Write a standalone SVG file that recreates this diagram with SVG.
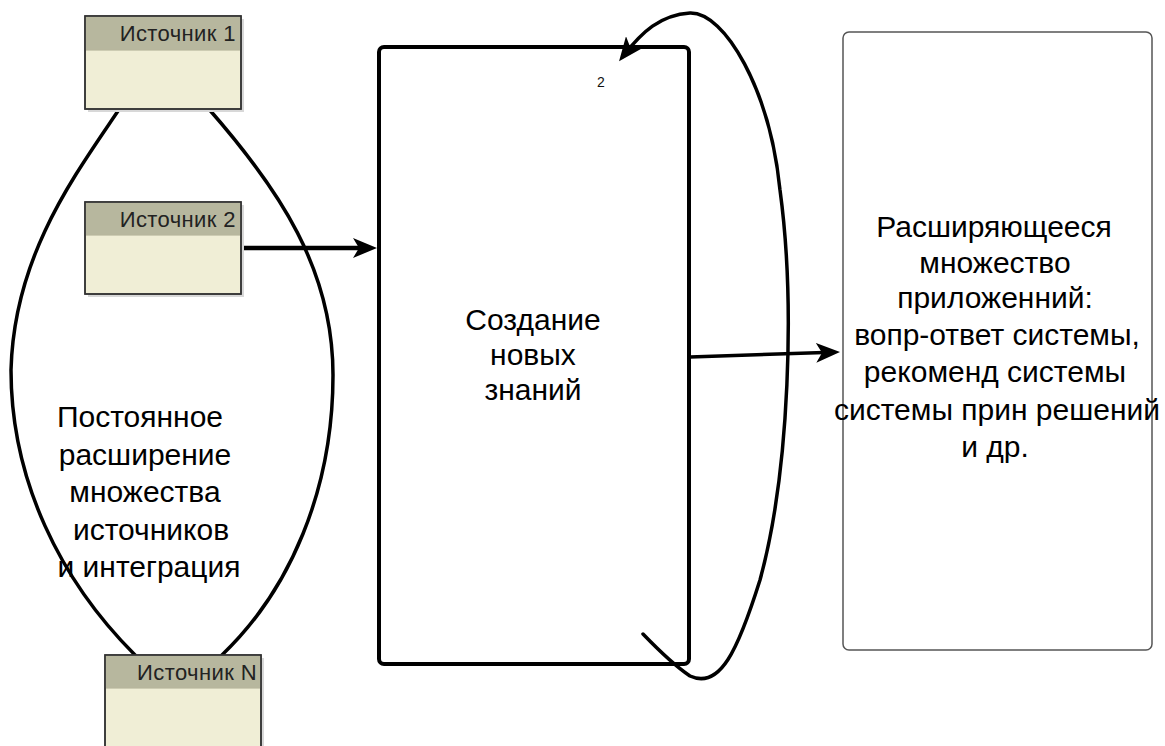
<svg xmlns="http://www.w3.org/2000/svg" width="1165" height="746" viewBox="0 0 1165 746">
  <style>
    .src-shadow { fill: #d8d8d8; }
    .src-body { fill: #f0eed6; stroke: #333; stroke-width: 1.5; }
    .src-head { fill: #b7b79e; }
    .src-rule { stroke: #a9a98f; stroke-width: 1; }
    .src-label { font-family: "Liberation Sans", Arial, sans-serif; font-size: 22px; letter-spacing: 0.4px; fill: #222; text-anchor: end; }
    .big { font-family: "Liberation Sans", Arial, sans-serif; font-size: 30px; fill: #000; text-anchor: middle; }
    .small { font-family: "Liberation Sans", Arial, sans-serif; font-size: 14px; fill: #111; text-anchor: middle; }
    .wire { fill: none; stroke: #000; stroke-linecap: round; stroke-linejoin: round; }
  </style>
  <defs>
    <marker id="arrow" markerUnits="userSpaceOnUse" viewBox="0 0 24 20" refX="16" refY="10" markerWidth="24" markerHeight="20" orient="auto">
      <path d="M0,0 L24,10 L0,20 L6,10 Z" fill="#000"/>
    </marker>
  </defs>

  <rect width="1165" height="746" fill="#fff"/>

  <!-- lens-shaped outline joining the sources -->
  <g id="connectors">
    <path class="wire" stroke-width="3.5" d="M120,108 C 75,175 14,255 11,370 C 11,480 60,580 135,655"/>
    <path class="wire" stroke-width="3.5" d="M208,108 C 280,190 333,270 333,375 C 333,490 290,590 222,655"/>
    <!-- source 2 into the knowledge block -->
    <path class="wire" stroke-width="4.5" d="M242,248 L369,248" marker-end="url(#arrow)"/>
    <!-- knowledge block out to applications -->
    <path class="wire" stroke-width="3.5" d="M690,357 L832,352.3" marker-end="url(#arrow)"/>
    <!-- feedback loop back to the top of the block -->
    <path class="wire" stroke-width="3.5" d="M643,634 Q 672,664 690,676 C 720,690 738,650 760,580 C 790,470 795,300 780,190 C 770,90 725,12 690,13 C 660,15 642,32 624,55" marker-end="url(#arrow)"/>
  </g>

  <g id="source-1">
    <rect class="src-shadow" x="88" y="19" width="156" height="93"/>
    <rect class="src-body" x="85" y="16" width="156" height="93"/>
    <rect class="src-head" x="85.75" y="16.75" width="154.5" height="33"/>
    <line class="src-rule" x1="86" y1="50" x2="240" y2="50"/>
    <rect x="85" y="16" width="156" height="93" fill="none" stroke="#333" stroke-width="1.5"/>
    <text class="src-label" x="236" y="41">Источник 1</text>
  </g>

  <g id="source-2">
    <rect class="src-shadow" x="88" y="205" width="156" height="92"/>
    <rect class="src-body" x="85" y="202" width="156" height="92"/>
    <rect class="src-head" x="85.75" y="202.75" width="154.5" height="32"/>
    <line class="src-rule" x1="86" y1="235" x2="240" y2="235"/>
    <rect x="85" y="202" width="156" height="92" fill="none" stroke="#333" stroke-width="1.5"/>
    <text class="src-label" x="236" y="227">Источник 2</text>
  </g>

  <g id="source-n">
    <rect class="src-shadow" x="108" y="658" width="156" height="100"/>
    <rect class="src-body" x="105" y="655" width="156" height="100"/>
    <rect class="src-head" x="105.75" y="655.75" width="154.5" height="32"/>
    <line class="src-rule" x1="106" y1="688" x2="260" y2="688"/>
    <rect x="105" y="655" width="156" height="100" fill="none" stroke="#333" stroke-width="1.5"/>
    <text class="src-label" x="257" y="680">Источник N</text>
  </g>

  <g id="integration-label">
    <text class="big" x="140" y="427">Постоянное</text>
    <text class="big" x="145" y="465">расширение</text>
    <text class="big" x="145" y="502">множества</text>
    <text class="big" x="151" y="540">источников</text>
    <text class="big" x="149" y="577">и интеграция</text>
  </g>

  <g id="knowledge">
    <rect x="379" y="47" width="310" height="617" rx="5" fill="none" stroke="#000" stroke-width="4"/>
    <text class="small" x="601" y="87">2</text>
    <text class="big" x="533" y="330">Создание</text>
    <text class="big" x="533" y="365">новых</text>
    <text class="big" x="533" y="400">знаний</text>
  </g>

  <g id="applications">
    <rect x="843" y="32" width="309" height="618" rx="6" fill="#fff" stroke="#555" stroke-width="1.5"/>
    <text class="big" x="994" y="237">Расширяющееся</text>
    <text class="big" x="995" y="273">множество</text>
    <text class="big" x="995" y="308">приложенний:</text>
    <text class="big" x="997" y="345">вопр-ответ системы,</text>
    <text class="big" x="995" y="382">рекоменд системы</text>
    <text class="big" x="997" y="420">системы прин решений</text>
    <text class="big" x="995" y="457">и др.</text>
  </g>
</svg>
